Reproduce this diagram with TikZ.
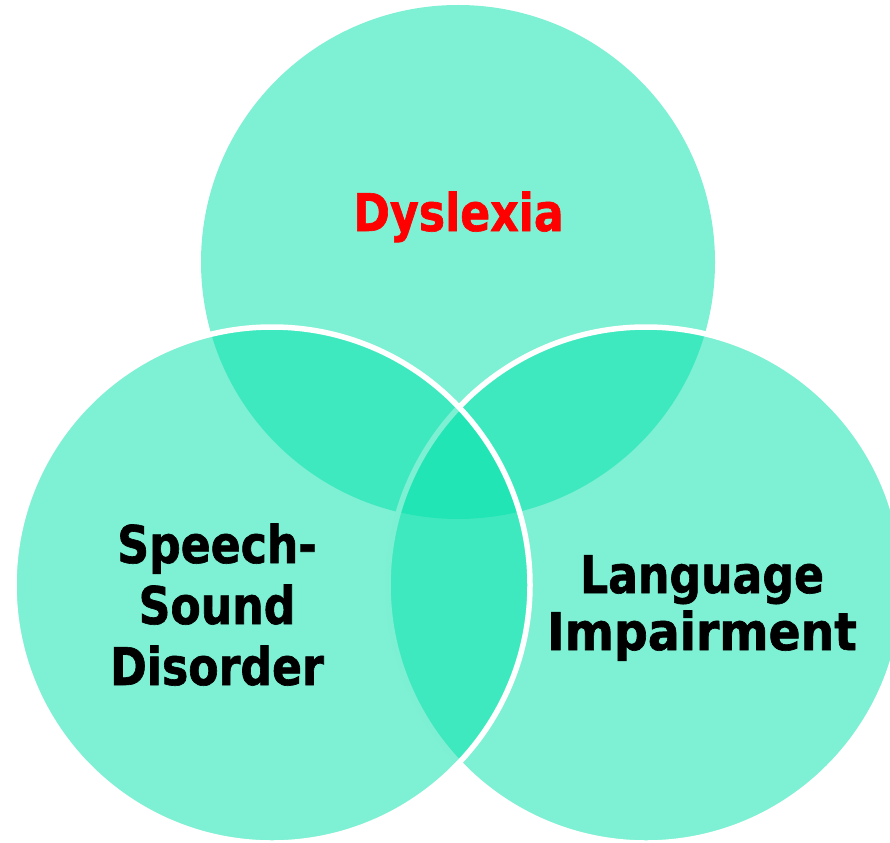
\documentclass[tikz,border=0pt]{standalone}
\usepackage{fontspec}
\newfontfamily\vennfont[FakeStretch=0.85, BoldFeatures={FakeBold=1.2}]{DejaVu Sans}
\definecolor{mint}{RGB}{7,226,172}
\definecolor{dysred}{RGB}{255,0,0}
\begin{document}
\begin{tikzpicture}[x=1pt,y=-1pt,
  venn/.style={circle, minimum size=516pt, inner sep=0pt, fill=mint, fill opacity=0.52, draw=white, line width=5.5pt},
  lbl/.style={font=\vennfont\bfseries\fontsize{52}{61}\selectfont, inner sep=0pt, align=center, anchor=base}]
\clip (0,0) rectangle (890,842);
\node[venn, draw=none, minimum size=514pt] (top) at (458,262) {};
\node[venn] (right) at (646,585) {};
\node[venn] (left) at (272,585) {};
\node[lbl, text=dysred] (dys) at (458.5,231) {Dyslexia};
\node[lbl] (ssd) at (217,685) {Speech-\\Sound\\Disorder};
\node[lbl, font=\vennfont\bfseries\fontsize{52}{57}\selectfont] (li) at (702,650) {Language\\\scalebox{1.07}[1]{Impairment}};
\end{tikzpicture}
\end{document}
